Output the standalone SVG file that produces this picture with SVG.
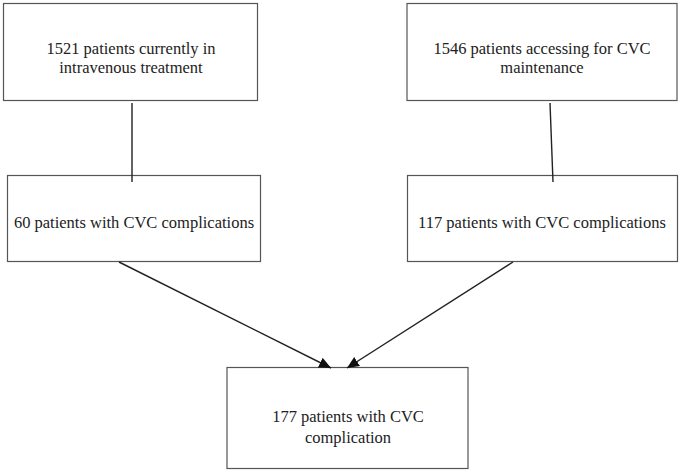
<svg xmlns="http://www.w3.org/2000/svg" width="680" height="472" viewBox="0 0 680 472">
<defs>
<style>
.box{fill:#fff;stroke:#555;stroke-width:1.2}
.t{font-family:"Liberation Serif","Times New Roman",serif;font-size:16.5px;fill:#222;text-anchor:middle}
.c{stroke:#222;stroke-width:1.4;fill:none}
</style>
<marker id="ah" viewBox="0 0 10 10" refX="10" refY="5" markerWidth="7" markerHeight="7" markerUnits="userSpaceOnUse" orient="auto"><path d="M0,0L10,5L0,10z" fill="#111"/></marker>
<marker id="ah2" viewBox="0 0 10 10" refX="10" refY="5" markerWidth="12" markerHeight="12" markerUnits="userSpaceOnUse" orient="auto"><path d="M0,0.5L10,5L0,9.5z" fill="#111"/></marker>
</defs>
<rect width="680" height="472" fill="#fff"/>
<g id="n1"><rect class="box" x="3.5" y="3.5" width="254" height="97"/><text class="t" x="131" y="54">1521 patients currently in</text><text class="t" x="131" y="73">intravenous treatment</text></g>
<g id="n2"><rect class="box" x="407" y="3.5" width="270" height="97"/><text class="t" x="542" y="54">1546 patients accessing for CVC</text><text class="t" x="542" y="73">maintenance</text></g>
<g id="n3"><rect class="box" x="7.5" y="175.5" width="253" height="86"/><text class="t" x="134" y="228">60 patients with CVC complications</text></g>
<g id="n4"><rect class="box" x="407.5" y="175.5" width="270" height="86"/><text class="t" x="542" y="228">117 patients with CVC complications</text></g>
<g id="n5"><rect class="box" x="227" y="367.5" width="241" height="101"/><text class="t" x="348" y="422">177 patients with CVC</text><text class="t" x="348" y="443">complication</text></g>
<g id="connectors">
<line class="c" x1="132" y1="103" x2="132" y2="182"/>
<line class="c" x1="550" y1="103" x2="553" y2="182"/>
<line class="c" x1="119" y1="262" x2="331" y2="368" marker-end="url(#ah2)"/>
<line class="c" x1="513" y1="262" x2="347" y2="368" marker-end="url(#ah2)"/>
</g>
</svg>
